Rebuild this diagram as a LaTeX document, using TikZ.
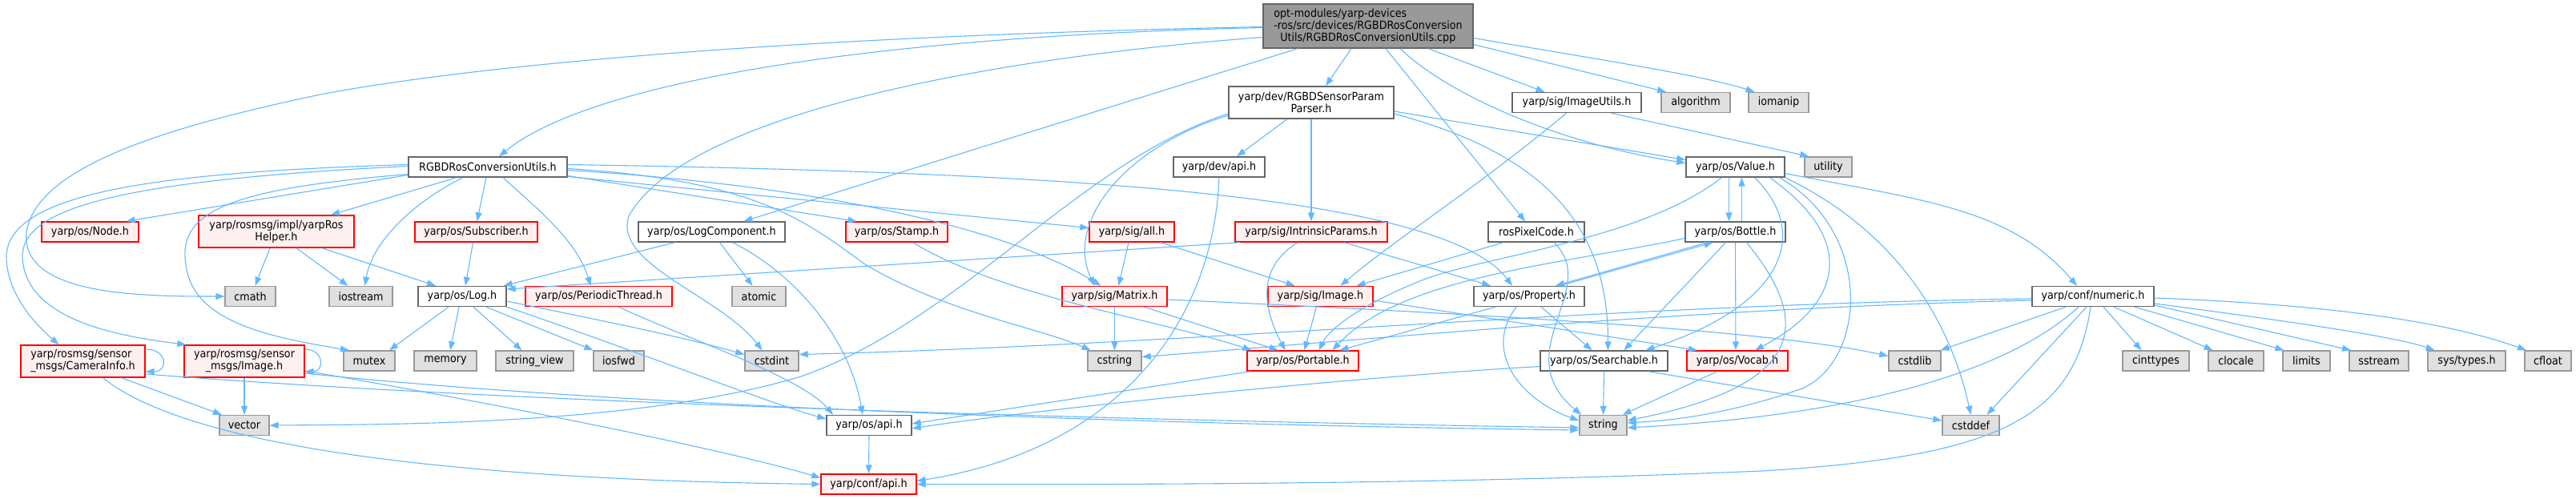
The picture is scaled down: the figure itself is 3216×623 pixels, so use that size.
\documentclass[tikz,border=0pt]{standalone}
\usepackage{fontspec}
\setmainfont{DejaVu Sans}[FakeStretch=0.91]
\usetikzlibrary{arrows.meta}
\definecolor{edgeblue}{HTML}{63B8FF}
\definecolor{redb}{HTML}{FF0000}
\definecolor{redfill}{HTML}{FFF0F0}
\definecolor{grayb}{HTML}{999999}
\definecolor{grayfill}{HTML}{E0E0E0}
\definecolor{darkb}{HTML}{666666}
\definecolor{mainfill}{HTML}{999999}
\tikzset{
  base/.style={draw, inner sep=0pt, minimum height=25pt, line width=1.4pt, align=center,
    font=\fontsize{14pt}{15pt}\selectfont},
  wbox/.style={base, draw=darkb, fill=white},
  rbox/.style={base, draw=redb, fill=redfill},
  gbox/.style={base, draw=grayb, fill=grayfill},
  mbox/.style={base, draw=darkb, fill=mainfill},
  edg/.style={draw=edgeblue, line width=1.1pt, -{Triangle[length=11pt,width=8pt]}},
}
\begin{document}
\begin{tikzpicture}[x=1pt,y=-1pt]
\useasboundingbox (0,0) rectangle (3216,623);
% row 0
\node[mbox, minimum width=262pt, minimum height=55pt, align=left] (main) at (1708,32.5)
 {opt-modules/yarp-devices\\-ros/src/devices/RGBDRosConversion\\\hspace*{8pt}Utils/RGBDRosConversionUtils.cpp};
% row 1
\node[wbox, minimum width=206pt, minimum height=40pt] (spp) at (1637,128) {yarp/dev/RGBDSensorParam\\Parser.h};
\node[wbox, minimum width=161pt] (iu) at (1968.5,128) {yarp/sig/ImageUtils.h};
\node[gbox, minimum width=86pt] (algorithm) at (2117,128) {algorithm};
\node[gbox, minimum width=75pt] (iomanip) at (2220.5,128) {iomanip};
% row 2
\node[wbox, minimum width=198pt] (rcu) at (609,208.5) {RGBDRosConversionUtils.h};
\node[wbox, minimum width=114pt] (devapi) at (1522,208.5) {yarp/dev/api.h};
\node[wbox, minimum width=123pt] (value) at (2166.5,208.5) {yarp/os/Value.h};
\node[gbox, minimum width=59pt] (utility) at (2282.5,208.5) {utility};
% row 3
\node[rbox, minimum width=121pt] (nodeh) at (112.5,289.5) {yarp/os/Node.h};
\node[rbox, minimum width=194pt, minimum height=40pt] (helper) at (345,289) {yarp/rosmsg/impl/yarpRos\\Helper.h};
\node[rbox, minimum width=153pt] (subscriber) at (594.5,289.5) {yarp/os/Subscriber.h};
\node[wbox, minimum width=183pt] (logcomp) at (888.5,289.5) {yarp/os/LogComponent.h};
\node[rbox, minimum width=127pt] (stamp) at (1119.5,289.5) {yarp/os/Stamp.h};
\node[rbox, minimum width=106pt] (sigall) at (1413,289.5) {yarp/sig/all.h};
\node[rbox, minimum width=190pt] (intrinsic) at (1637,289.5) {yarp/sig/IntrinsicParams.h};
\node[wbox, minimum width=120pt] (rospixel) at (1918,289.5) {rosPixelCode.h};
\node[wbox, minimum width=125pt] (bottle) at (2166.5,289.5) {yarp/os/Bottle.h};
% row 4
\node[gbox, minimum width=63pt] (cmath) at (312.5,370) {cmath};
\node[gbox, minimum width=79pt] (iostream) at (450.5,370) {iostream};
\node[wbox, minimum width=110pt] (logh) at (577,370) {yarp/os/Log.h};
\node[rbox, minimum width=183pt] (periodic) at (747.5,370) {yarp/os/PeriodicThread.h};
\node[gbox, minimum width=67pt] (atomic) at (947.5,370) {atomic};
\node[rbox, minimum width=131pt] (matrix) at (1391.5,370) {yarp/sig/Matrix.h};
\node[rbox, minimum width=131pt] (sigimage) at (1648.5,370) {yarp/sig/Image.h};
\node[wbox, minimum width=138pt] (property) at (1909,370) {yarp/os/Property.h};
\node[wbox, minimum width=152pt] (numeric) at (2613,370) {yarp/conf/numeric.h};
% row 5
\node[rbox, minimum width=155pt, minimum height=40pt, align=left] (camerainfo) at (103.5,451) {yarp/rosmsg/sensor\\\_msgs/CameraInfo.h};
\node[rbox, minimum width=150pt, minimum height=40pt] (sensimage) at (305,451) {yarp/rosmsg/sensor\\\_msgs/Image.h};
\node[gbox, minimum width=64pt] (mutex) at (461,450.5) {mutex};
\node[gbox, minimum width=78pt] (memory) at (556,450.5) {memory};
\node[gbox, minimum width=97pt] (stringview) at (667.5,450.5) {string\_view};
\node[gbox, minimum width=63pt] (iosfwd) at (772.5,450.5) {iosfwd};
\node[gbox, minimum width=67pt] (cstdint) at (963.5,450.5) {cstdint};
\node[gbox, minimum width=67pt] (cstring) at (1391.5,450.5) {cstring};
\node[rbox, minimum width=139pt] (portable) at (1626.5,450.5) {yarp/os/Portable.h};
\node[wbox, minimum width=159pt] (searchable) at (2002.5,450.5) {yarp/os/Searchable.h};
\node[rbox, minimum width=126pt] (vocab) at (2169,450.5) {yarp/os/Vocab.h};
\node[gbox, minimum width=65pt] (cstdlib) at (2390.5,450.5) {cstdlib};
\node[gbox, minimum width=83pt] (cinttypes) at (2691.5,450.5) {cinttypes};
\node[gbox, minimum width=69pt] (clocale) at (2791.5,450.5) {clocale};
\node[gbox, minimum width=59pt] (limits) at (2879.5,450.5) {limits};
\node[gbox, minimum width=74pt] (sstream) at (2970,450.5) {sstream};
\node[gbox, minimum width=97pt] (systypes) at (3079.5,450.5) {sys/types.h};
\node[gbox, minimum width=58pt] (cfloat) at (3181,450.5) {cfloat};
% row 6
\node[gbox, minimum width=62pt] (vector) at (305,531) {vector};
\node[wbox, minimum width=106pt] (osapi) at (1085,531) {yarp/os/api.h};
\node[gbox, minimum width=59pt] (string) at (2001.5,531) {string};
\node[gbox, minimum width=71pt] (cstddef) at (2460.5,531) {cstddef};
% row 7
\node[rbox, minimum width=119pt] (confapi) at (1084.5,604.5) {yarp/conf/api.h};

% ---- edges from main
\draw[edg] ([yshift=-2pt]main.west) .. controls (1100,45) and (740,100) .. ([xshift=14pt]rcu.north);
\draw[edg] ([yshift=-1pt]main.west) .. controls (1000,45) and (600,80) .. (400,118) .. controls (200,160) and (45,210) .. (33,290) .. controls (25,370) and (180,370) .. (cmath.west);
\draw[edg] ([yshift=-14pt]main.west) .. controls (1200,75) and (850,150) .. (785,270) .. controls (765,330) and (900,370) .. ([xshift=-12pt]cstdint.north);
\draw[edg] ([xshift=-88pt]main.south) -- ([xshift=40pt]logcomp.north);
\draw[edg] ([xshift=-21pt]main.south) -- ([xshift=18pt]spp.north);
\draw[edg] ([xshift=22pt]main.south) -- ([xshift=-14pt]rospixel.north);
\draw[edg] ([xshift=40pt]main.south) .. controls (1810,120) and (1950,180) .. ([yshift=5pt]value.west);
\draw[edg] ([xshift=75pt]main.south) -- ([xshift=-40pt]iu.north);
\draw[edg] ([yshift=-23pt]main.east) -- ([xshift=-37pt]algorithm.north);
\draw[edg] ([yshift=-15pt]main.east) .. controls (2000,75) and (2130,95) .. ([xshift=-30pt]iomanip.north);
% ---- spp
\draw[edg] ([xshift=-30pt]spp.south) -- ([xshift=22pt]devapi.north);
\draw[edg] (spp.south) -- (intrinsic.north);
\draw[edg] ([yshift=-11pt]spp.east) -- ([yshift=9pt]value.west);
\draw[edg] ([yshift=-14pt]spp.east) .. controls (1900,185) and (2008,260) .. ([xshift=5pt]searchable.north);
\draw[edg] ([yshift=-16pt]spp.west) .. controls (1400,185) and (1330,280) .. ([xshift=-25pt]matrix.north);
\draw[edg] ([yshift=-14pt]spp.west) .. controls (1350,200) and (1200,400) .. (1000,470) .. controls (800,530) and (500,530) .. (vector.east);
% ---- iu
\draw[edg] ([xshift=-13pt]iu.south) .. controls (1850,230) and (1740,300) .. ([xshift=25pt]sigimage.north);
\draw[edg] ([xshift=43pt]iu.south) -- ([xshift=6pt]utility.north west);
% ---- devapi
\draw[edg] (devapi.south) .. controls (1515,400) and (1400,560) .. ([yshift=4pt]confapi.east);
% ---- value
\draw[edg] ([xshift=-8pt]value.south) -- ([xshift=-8pt]bottle.north);
\draw[edg] ([xshift=8pt]bottle.north) -- ([xshift=8pt]value.south);
\draw[edg] ([yshift=-8pt]value.east) .. controls (2400,250) and (2510,260) .. ([xshift=-20pt]numeric.north);
\draw[edg] ([xshift=-17pt]value.south) .. controls (2050,300) and (1850,320) .. (1775,350) .. controls (1700,380) and (1660,410) .. ([xshift=20pt]portable.north);
\draw[edg] ([xshift=24pt]value.south) .. controls (2260,290) and (2230,380) .. ([xshift=52pt]searchable.north);
\draw[edg] ([xshift=43pt]value.south) .. controls (2320,300) and (2300,380) .. ([xshift=22pt]vocab.north);
\draw[edg] ([xshift=55pt]value.south) .. controls (2340,290) and (2330,450) .. (2250,485) .. controls (2150,520) and (2080,525) .. ([yshift=3pt]string.east);
\draw[edg] (value.south east) .. controls (2350,280) and (2430,380) .. (cstddef.north);
% ---- bottle
\draw[edg] ([yshift=-8pt]bottle.west) .. controls (1950,330) and (1750,345) .. ([xshift=37pt]portable.north);
\draw[edg] ([xshift=-35pt]bottle.south) -- ([xshift=33pt]property.north);
\draw[edg] ([xshift=38pt]property.north) -- ([xshift=-28pt]bottle.south);
\draw[edg] ([xshift=-12pt]bottle.south) -- ([xshift=25pt]searchable.north);
\draw[edg] (bottle.south) -- ([xshift=-2pt]vocab.north);
\draw[edg] ([xshift=14pt]bottle.south) .. controls (2260,400) and (2260,480) .. ([yshift=6pt]string.east);
% ---- property
\draw[edg] ([xshift=-42pt]property.south) -- ([xshift=46pt]portable.north);
\draw[edg] ([xshift=15pt]property.south) -- ([xshift=-15pt]searchable.north);
\draw[edg] ([xshift=-16pt]property.south) .. controls (1850,440) and (1900,500) .. ([yshift=6pt]string.west);
% ---- sigimage
\draw[edg] ([xshift=-5pt]sigimage.south) -- ([xshift=2pt]portable.north);
\draw[edg] ([yshift=-5pt]sigimage.east) -- ([xshift=-50pt]vocab.north);
% ---- rospixel
\draw[edg] ([xshift=-41pt]rospixel.south) -- ([xshift=45pt]sigimage.north);
\draw[edg] ([xshift=22pt]rospixel.south) .. controls (2000,360) and (1880,440) .. ([xshift=3pt]string.north west);
% ---- intrinsic
\draw[edg] ([xshift=41pt]intrinsic.south) -- ([xshift=-48pt]property.north);
\draw[edg] ([xshift=-17pt]intrinsic.south) .. controls (1560,340) and (1585,400) .. ([xshift=-22pt]portable.north);
\draw[edg] ([xshift=-89pt]intrinsic.south) -- ([yshift=9pt]logh.east);
% ---- sigall
\draw[edg] ([xshift=-4pt]sigall.south) -- ([xshift=5pt]matrix.north);
\draw[edg] ([xshift=36pt]sigall.south) -- ([xshift=-32pt]sigimage.north);
% ---- matrix
\draw[edg] (matrix.south) -- (cstring.north);
\draw[edg] ([xshift=37pt]matrix.south) -- ([xshift=-31pt]portable.north);
\draw[edg] ([yshift=-4pt]matrix.east) .. controls (1800,390) and (2200,410) .. ([yshift=6pt]cstdlib.west);
% ---- stamp
\draw[edg] ([xshift=20pt]stamp.south) .. controls (1250,370) and (1450,400) .. ([xshift=-64pt]portable.north);
% ---- logcomp
\draw[edg] ([xshift=10pt]logcomp.south) -- ([xshift=-8pt]atomic.north);
\draw[edg] ([xshift=-46pt]logcomp.south) -- ([xshift=-4pt]logh.north east);
\draw[edg] ([xshift=26pt]logcomp.south) .. controls (990,340) and (1060,420) .. ([xshift=-8pt]osapi.north);
% ---- logh
\draw[edg] ([xshift=-17pt]logh.south) -- ([xshift=25pt]mutex.north);
\draw[edg] ([xshift=-4pt]logh.south) -- ([xshift=6pt]memory.north);
\draw[edg] ([xshift=14pt]logh.south) -- ([xshift=-16pt]stringview.north);
\draw[edg] ([xshift=30pt]logh.south) -- ([xshift=-32pt]iosfwd.north);
\draw[edg] ([yshift=-6pt]logh.east) .. controls (750,400) and (850,420) .. ([yshift=8pt]cstdint.west);
\draw[edg] (logh.south east) .. controls (800,440) and (950,500) .. ([yshift=8pt]osapi.west);
% ---- periodic
\draw[edg] ([xshift=25pt]periodic.south) .. controls (850,420) and (1000,470) .. ([xshift=-45pt]osapi.north);
% ---- helper
\draw[edg] ([xshift=-8pt]helper.south) -- ([xshift=6pt]cmath.north);
\draw[edg] ([xshift=25pt]helper.south) -- ([xshift=-16pt]iostream.north);
\draw[edg] ([xshift=57pt]helper.south) -- ([xshift=-33pt]logh.north);
% ---- subscriber
\draw[edg] ([xshift=-4pt]subscriber.south) -- ([xshift=4pt]logh.north);
% ---- rcu
\draw[edg] ([yshift=-10pt]rcu.west) -- ([xshift=45pt]nodeh.north);
\draw[edg] ([xshift=-39pt]rcu.south) -- ([xshift=68pt]helper.north);
\draw[edg] ([xshift=-2pt]rcu.south) -- ([xshift=1pt]subscriber.north);
\draw[edg] ([xshift=19pt]rcu.south) .. controls (670,260) and (720,300) .. ([xshift=-10pt]periodic.north);
\draw[edg] ([xshift=-31pt]rcu.south) .. controls (520,250) and (465,300) .. ([xshift=5pt]iostream.north);
\draw[edg] ([yshift=-9pt]rcu.west) .. controls (300,235) and (220,260) .. (232,330) .. controls (240,400) and (330,420) .. ([xshift=-25pt]mutex.north);
\draw[edg] ([yshift=3pt]rcu.west) .. controls (200,215) and (10,240) .. (8,320) .. controls (8,370) and (50,410) .. ([xshift=-30pt]camerainfo.north);
\draw[edg] ([yshift=1pt]rcu.west) .. controls (150,225) and (28,260) .. (28,320) .. controls (30,400) and (150,420) .. ([xshift=3pt]sensimage.north west);
\draw[edg] ([yshift=-11pt]rcu.east) -- ([xshift=-50pt]stamp.north);
\draw[edg] ([yshift=-12pt]rcu.east) -- ([yshift=5pt]sigall.west);
\draw[edg] ([yshift=-4pt]rcu.east) .. controls (1000,230) and (1250,280) .. ([xshift=-17pt]matrix.north);
\draw[edg] ([yshift=-2pt]rcu.east) .. controls (950,225) and (1010,280) .. (1080,330) .. controls (1180,390) and (1300,410) .. ([xshift=-30pt]cstring.north);
\draw[edg] ([yshift=3pt]rcu.east) .. controls (1300,215) and (1800,240) .. ([xshift=-21pt]property.north);
% ---- camerainfo
\draw[edg] ([yshift=15pt]camerainfo.east) .. controls (210,436) and (210,464) .. ([yshift=-13pt]camerainfo.east);
\draw[edg] ([xshift=48pt]camerainfo.south) -- ([xshift=-28pt]vector.north);
\draw[edg] ([xshift=25pt]camerainfo.south) .. controls (250,570) and (650,600) .. (confapi.west);
\draw[edg] ([yshift=-16pt]camerainfo.east) .. controls (600,500) and (1300,523) .. ([yshift=-3pt]string.west);
% ---- sensimage
\draw[edg] ([yshift=15pt]sensimage.east) .. controls (405,436) and (405,464) .. ([yshift=-13pt]sensimage.east);
\draw[edg] (sensimage.south) -- (vector.north);
\draw[edg] ([yshift=-12pt]sensimage.east) .. controls (600,500) and (900,560) .. ([yshift=8pt]confapi.west);
\draw[edg] ([yshift=-15pt]sensimage.east) .. controls (700,500) and (1300,528) .. ([yshift=-6pt]string.west);
% ---- numeric
\draw[edg] ([xshift=-34pt]numeric.south) -- ([xshift=32pt]cstdlib.north);
\draw[edg] ([xshift=13pt]numeric.south) -- ([xshift=-18pt]cinttypes.north);
\draw[edg] ([xshift=26pt]numeric.south) -- ([xshift=-29pt]clocale.north);
\draw[edg] ([xshift=52pt]numeric.south) -- ([xshift=-28pt]limits.north);
\draw[edg] ([yshift=-11pt]numeric.east) -- ([xshift=-35pt]sstream.north);
\draw[edg] ([yshift=-9pt]numeric.east) .. controls (2850,400) and (2990,420) .. ([xshift=-40pt]systypes.north);
\draw[edg] ([yshift=-2pt]numeric.east) .. controls (2900,380) and (3050,400) .. ([xshift=-27pt]cfloat.north);
\draw[edg] ([xshift=-8pt]numeric.south) -- ([xshift=20pt]cstddef.north);
\draw[edg] ([xshift=-18pt]numeric.south) .. controls (2500,470) and (2300,520) .. ([yshift=-3pt]string.east);
\draw[edg] ([xshift=-3pt]numeric.south) .. controls (2590,520) and (2500,570) .. (2200,588) .. controls (1800,605) and (1400,605) .. (confapi.east);
\draw[edg] ([yshift=-3pt]numeric.west) .. controls (2000,380) and (1500,430) .. ([yshift=8pt]cstdint.east);
\draw[edg] ([yshift=-5pt]numeric.west) .. controls (2100,385) and (1700,425) .. ([yshift=5pt]cstring.east);
% ---- lower
\draw[edg] ([xshift=5pt]portable.south west) -- ([yshift=2pt]osapi.east);
\draw[edg] ([yshift=-7pt]searchable.west) .. controls (1700,470) and (1300,510) .. ([yshift=-4pt]osapi.east);
\draw[edg] (searchable.south) -- (string.north);
\draw[edg] ([xshift=55pt]searchable.south) -- ([yshift=6pt]cstddef.west);
\draw[edg] ([xshift=-25pt]vocab.south) -- ([xshift=-6pt]string.north east);
\draw[edg] (osapi.south) -- (confapi.north);
\end{tikzpicture}
\end{document}
